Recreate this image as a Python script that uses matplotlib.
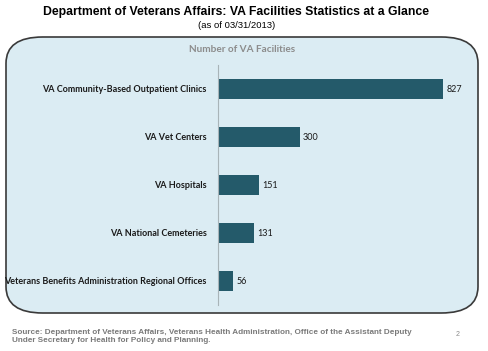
import matplotlib
matplotlib.use("Agg")
import matplotlib.pyplot as plt
from matplotlib.patches import FancyBboxPatch

categories = ["VA Community-Based Outpatient Clinics", "VA Vet Centers", "VA Hospitals",
              "VA National Cemeteries", "Veterans Benefits Administration Regional Offices"]
values = [827, 300, 151, 131, 56]

W, H = 489, 351
fig = plt.figure(figsize=(W/100, H/100), dpi=100)
fig.patch.set_facecolor("white")

def fx(px): return px / W
def fy(py): return 1 - py / H

# rounded background box
box = FancyBboxPatch((fx(6), fy(313)), fx(472), (313-37)/H,
                     boxstyle="round,pad=0,rounding_size=0.075",
                     transform=fig.transFigure, facecolor="#dbecf3",
                     edgecolor="#3a3a3a", linewidth=1.2, zorder=-5)
fig.patches.append(box)

fig.text(fx(236), fy(12), "Department of Veterans Affairs: VA Facilities Statistics at a Glance",
         ha="center", va="center", fontsize=8.8, fontweight="bold", family="Liberation Sans")
fig.text(fx(237), fy(25), "(as of 03/31/2013)", ha="center", va="center",
         fontsize=6.8, family="Liberation Sans")
fig.text(fx(242), fy(50), "Number of VA Facilities", ha="center", va="center",
         fontsize=7.2, fontweight="bold", color="#8c8c8c", family="Lato")

ax = fig.add_axes([fx(218), fy(305), fx(470) - fx(218), (305-65)/H])
ax.set_facecolor("none")
y = list(range(len(categories)))
ax.barh(y, values, height=0.4, color="#245a6a")
ax.set_ylim(len(categories) - 0.5, -0.5)
ax.set_xlim(0, 926)
ax.set_yticks(y)
ax.set_yticklabels(categories, fontsize=6.5, fontweight="bold", family="Lato", color="#1a1a1a")
ax.tick_params(axis="y", length=0, pad=8)
ax.set_xticks([])
for s in ["top", "right", "bottom"]:
    ax.spines[s].set_visible(False)
ax.spines["left"].set_color("#a8b4b8")
ax.spines["left"].set_linewidth(0.8)
for yi, v in zip(y, values):
    ax.text(v + 12, yi, str(v), va="center", ha="left", fontsize=6.5, family="Lato", color="#1a1a1a")

fig.text(fx(12), fy(337), "Source: Department of Veterans Affairs, Veterans Health Administration, Office of the Assistant Deputy\nUnder Secretary for Health for Policy and Planning.",
         ha="left", va="center", fontsize=5.9, fontweight="bold", color="#7a7a7a",
         family="Liberation Sans", linespacing=1.2)
fig.text(fx(458), fy(335), "2", ha="center", va="center", fontsize=5, color="#8a8a8a",
         family="Liberation Sans")

fig.savefig("out.png", dpi=100)
